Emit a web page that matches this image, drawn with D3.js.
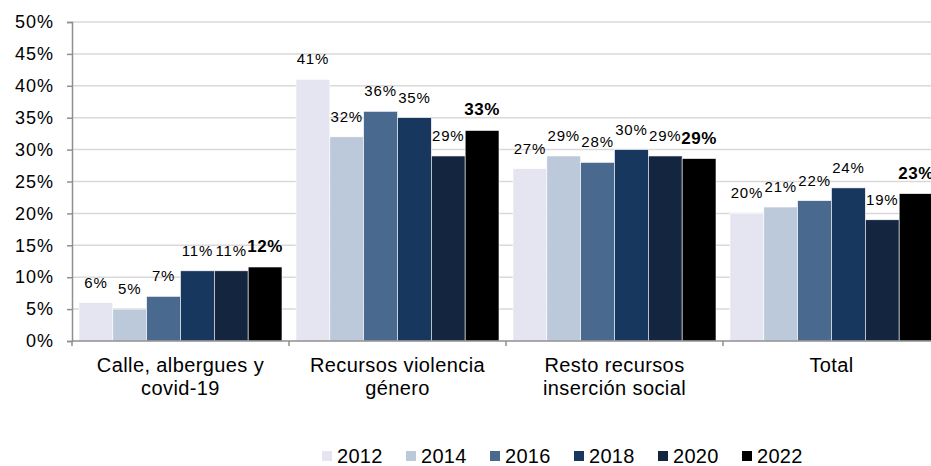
<!DOCTYPE html>
<html><head><meta charset="utf-8">
<script src="https://cdn.jsdelivr.net/npm/d3@7/dist/d3.min.js"></script>
<style>body{margin:0;background:#fff}svg{display:block;font-family:"Liberation Sans",Arial,sans-serif}</style>
</head><body><svg id="c" width="931" height="466"></svg>
<script>
const categories = [["Calle, albergues y","covid-19"],["Recursos violencia","género"],["Resto recursos","inserción social"],["Total"]];
const years = ["2012","2014","2016","2018","2020","2022"];
const v2012 = [6, 41, 27, 20];
const v2014 = [5, 32, 29, 21];
const v2016 = [7, 36, 28, 22];
const v2018 = [11, 35, 30, 24];
const v2020 = [11, 29, 29, 19];
const v2022 = [11.6, 33, 28.6, 23.1];
const yTicks = [0,5,10,15,20,25,30,35,40,45,50];
const colors = ["#e5e4f1","#bcc9da","#4a698f","#18375e","#13253f","#000000"];

const series = [v2012,v2014,v2016,v2018,v2020,v2022];
const svg = d3.select("#c");
const mLeft = 72, band = 217, mTop = 22, mBottom = 341;
const x0 = d3.scaleBand().domain(d3.range(categories.length)).range([mLeft, mLeft + band*categories.length]).padding(0);
const x1 = d3.scaleBand().domain(d3.range(years.length)).range([7, band-7]).padding(0);
const y = d3.scaleLinear().domain([0,50]).range([mBottom, mTop]);

// gridlines
svg.append("g").selectAll("line").data(yTicks.filter(t=>t>0)).join("line")
  .attr("x1", mLeft).attr("x2", 931).attr("y1", d=>y(d)).attr("y2", d=>y(d))
  .attr("stroke", "#d9d9d9").attr("stroke-width", 1.5);

// y axis
const ya = svg.append("g").attr("transform", `translate(${mLeft},0)`)
  .call(d3.axisLeft(y).tickValues(yTicks).tickFormat(d=>d+"%").tickSize(5).tickPadding(13));
ya.select(".domain").attr("stroke","#8f8f8f").attr("stroke-width",1.5);
ya.selectAll(".tick line").attr("stroke","#8f8f8f").attr("stroke-width",1.5);
ya.selectAll(".tick text").attr("font-size","18px").attr("letter-spacing","1px").attr("fill","#000").attr("font-family","'Liberation Sans',Arial,sans-serif");

// bars
categories.forEach((c,ci)=>{
  const g = svg.append("g").attr("transform", `translate(${x0(ci)},0)`);
  g.selectAll("rect").data(series.map((s,si)=>({si, v:s[ci]}))).join("rect")
    .attr("x", d=>x1(d.si)).attr("width", x1.bandwidth())
    .attr("y", d=>y(d.v)).attr("height", d=>y(0)-y(d.v))
    .attr("fill", d=>colors[d.si]).attr("stroke","#ffffff").attr("stroke-width",0.6);
  g.selectAll("text").data(series.map((s,si)=>({si, v:s[ci]}))).join("text")
    .attr("x", d=>x1(d.si)+x1.bandwidth()/2).attr("y", d=>y(d.v)-15)
    .attr("text-anchor","middle")
    .attr("font-size", d=>d.si===5?"17px":"15px")
    .attr("letter-spacing", d=>d.si===5?"0.5px":"0.8px")
    .attr("font-weight", d=>d.si===5?"bold":"normal")
    .attr("fill","#000")
    .text(d=>Math.round(d.v)+"%");
});

// x axis
const xa = svg.append("g").attr("transform", `translate(0,${mBottom})`);
xa.append("line").attr("x1",mLeft).attr("x2",931).attr("y1",0).attr("y2",0).attr("stroke","#8f8f8f").attr("stroke-width",1.5);
xa.selectAll(".ct").data(d3.range(categories.length+1)).join("line").attr("class","ct")
  .attr("x1", d=>mLeft+band*d).attr("x2", d=>mLeft+band*d).attr("y1",0).attr("y2",5)
  .attr("stroke","#8f8f8f").attr("stroke-width",1.5);
categories.forEach((c,ci)=>{
  const t = svg.append("text").attr("text-anchor","middle").attr("font-size","20px").attr("letter-spacing","0.4px").attr("fill","#000");
  c.forEach((line,li)=>{
    t.append("tspan").attr("x", x0(ci)+band/2).attr("y", 372 + li*23).text(line);
  });
});

// legend
const lg = svg.append("g");
years.forEach((yr,i)=>{
  const gx = 322 + i*84;
  lg.append("rect").attr("x",gx).attr("y",451).attr("width",10).attr("height",10).attr("fill",colors[i]);
  lg.append("text").attr("x",gx+15).attr("y",463).attr("font-size","20px").attr("letter-spacing","0.3px").attr("fill","#000").text(yr);
});
</script></body></html>
